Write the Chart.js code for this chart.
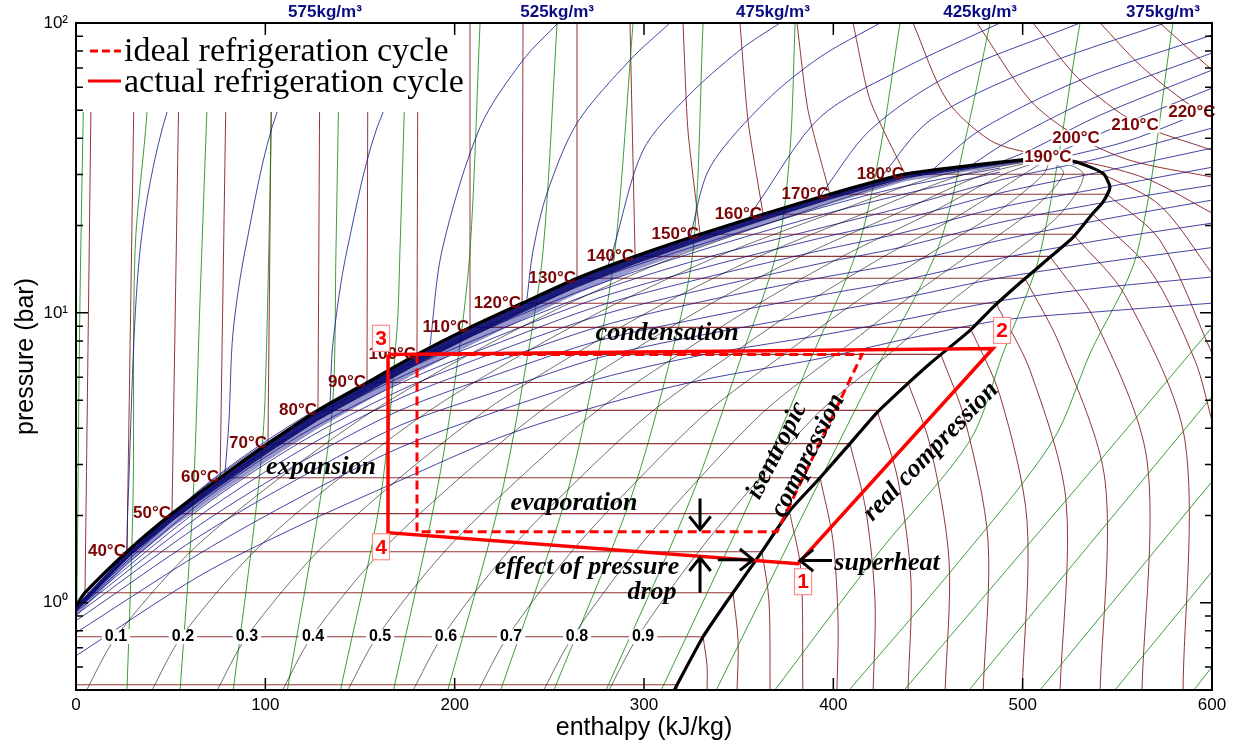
<!DOCTYPE html>
<html>
<head>
<meta charset="utf-8">
<title>p-h diagram</title>
<script src="https://cdn.jsdelivr.net/npm/chart.js@4.4.1/dist/chart.umd.min.js"></script>
<style>
  html, body { margin: 0; padding: 0; background: #fff; }
  #wrap { width: 1238px; height: 746px; }
</style>
</head>
<body>
<div id="wrap"><canvas id="ph" width="1238" height="746"></canvas></div>
<script>
// ---------- axes ----------
const enthalpyTicks = [0, 100, 200, 300, 400, 500, 600];
const pressureDecades = [1, 10, 100];
const decadeLabels = ['10⁰', '10¹', '10²'];

// ---------- saturation dome (h kJ/kg, p bar) ----------
const satLiquid = [[0,0.976],[4.75,1.083],[26.9,1.50],[50.7,2.03],[76.1,2.70],[101.4,3.54],[127.8,4.61],[153.7,5.75],[180.1,7.19],[208.1,8.91],[235.6,10.79],[264.6,13.16],[295.3,15.67],[329.6,18.67],[362.9,21.89],[398.2,25.67],[437.9,30.09],[488.0,33.1],[514.4,34.19]];
const satVapour = [[514.4,34.19],[528.7,33.1],[542.4,30.3],[546.1,27.1],[542.4,24.1],[537.2,22.1],[526.6,18.2],[514.4,15.55],[500.2,12.95],[484.3,10.45],[472.2,8.70],[451.1,6.69],[439.4,5.71],[423.1,4.53],[408.8,3.54],[393.0,2.70],[377.1,2.08],[362.3,1.50],[347.0,1.083],[331.2,0.763],[315.3,0.49]];
// crowded high-density isochores just inside the liquid line
const bundleH     = [0, 26.9, 50.7, 76.1, 101.4, 127.8, 153.7, 180.1, 208.1, 235.6, 264.6, 295.3, 329.6, 362.9, 398.2, 437.9, 488.0, 514.4];
const bundleTopP  = [0.976, 1.50, 2.03, 2.70, 3.54, 4.61, 5.75, 7.19, 8.91, 10.79, 13.16, 15.67, 18.67, 21.89, 25.67, 30.09, 33.1, 34.19];
const bundleMidP  = [0.928, 1.417, 1.905, 2.517, 3.280, 4.244, 5.293, 6.619, 8.203, 9.997, 12.27, 14.70, 17.63, 20.80, 24.55, 29.15, 32.47, 34.19];
const bundleLowP  = [0.893, 1.357, 1.816, 2.389, 3.098, 3.989, 4.975, 6.221, 7.710, 9.441, 11.64, 14.02, 16.89, 20.02, 23.74, 28.46, 32.01, 34.19];

// ---------- isotherms ----------
const isothermTemps = [10,20,30,40,50,60,70,80,90,100,110,120,130,140,150,160,170,180];
const isothermSatP  = [0.521,0.763,1.083,1.50,2.03,2.70,3.54,4.61,5.75,7.19,8.91,10.79,13.16,15.67,18.67,21.89,25.67,30.09];
const isothermLiquidSide = [
  [[0,0.521]],
  [[0,0.763]],
  [[8.45,100],[4.75,1.083]],
  [[31.2,100],[26.9,1.50]],
  [[54.9,100],[50.7,2.03]],
  [[79.8,100],[76.1,2.70]],
  [[103.5,100],[101.4,3.54]],
  [[128.9,100],[127.8,4.61]],
  [[154.2,100],[153.7,5.75]],
  [[180.6,100],[180.1,7.19]],
  [[208.1,100],[208.1,8.91]],
  [[236.1,100],[235.6,10.79]],
  [[264.6,100],[264.6,13.16]],
  [[292.6,100],[295.3,15.67]],
  [[320.6,100],[323.2,42.7],[329.6,18.67]],
  [[350.7,100],[354.9,46.2],[362.9,21.89]],
  [[380.8,100],[386.6,50.1],[398.2,25.67]],
  [[410.4,100],[419.4,54.2],[437.9,30.09]]
];
const isothermVapourSide = [
  [[316.9,0.521],[318,0.49]],
  [[331.2,0.763],[333.3,0.606],[333.3,0.49]],
  [[347.0,1.083],[349.7,0.739],[349.1,0.49]],
  [[362.3,1.50],[366.0,1.016],[366.6,0.49]],
  [[377.1,2.03],[382.9,1.290],[383.9,0.49]],
  [[393.0,2.70],[399.8,1.64],[402.5,0.867],[401.9,0.49]],
  [[408.8,3.54],[417.2,2.08],[422.0,1.016],[421.0,0.49]],
  [[423.1,4.61],[434.2,2.64],[441.0,1.19],[439.4,0.49]],
  [[439.4,5.75],[451.1,3.49],[461.1,1.40],[459.0,0.49]],
  [[456.8,7.19],[469.6,4.25],[481.7,1.64],[479.1,0.49]],
  [[472.2,8.91],[488.0,5.19],[502.3,1.92],[499.7,0.49]],
  [[485.9,10.79],[503.9,6.33],[522.9,2.25],[519.7,0.49]],
  [[501.2,13.16],[519.7,7.72],[543.5,2.64],[540.9,0.49]],
  [[514.4,15.67],[538.2,9.42],[565.7,3.09],[563.0,0.49]],
  [[526.6,18.67],[554.1,11.49],[585.7,3.63],[584.7,0.49]],
  [[537.2,21.89],[567.3,14.03],[591.0,6.85],[600,4.25]],
  [[544.5,25.67],[572.5,17.8],[600,7.25]],
  [[542.4,30.09],[572.5,23.5],[600,13.69]]
];
const hotIsothermTemps = [190,200,210,220,230];
const hotIsotherms = [
  [[442.1,100],[460.0,54.2],[482.8,39.4],[503.9,35.6],[540.9,32.3],[567.3,28.7],[600,22.1]],
  [[475.9,100],[503.9,54.2],[527.7,41.0],[556.7,33.6],[600,29.4]],
  [[505.5,100],[530.3,63.5],[559.3,45.5],[600,36.4]],
  [[540.9,100],[562.0,71.6],[588.4,52.1],[600,48.1]],
  [[572.5,100],[600,68.8]]
];
const labelledTemps = [40,50,60,70,80,90,100,110,120,130,140,150,160,170,180];
const hotLabelH = [513.3, 528.2, 559.3, 589.4];
const hotLabelP = [34.4, 40.1, 44.4, 49.3];

// ---------- isochores (kg/m3) ----------
const denseIsochores = [
  [[12.7,100],[6.3,80.7],[0,63.5]],
  [[70.8,100],[48.1,49.3],[33.8,16.4],[27.5,2.25],[26.9,1.50]],
  [[132.6,100],[106.2,49.3],[89.3,16.4],[82.9,8.50],[80.8,4.25],[78.7,2.81]],
  [[194.9,100],[162.2,49.3],[143.1,16.4],[135.7,7.85],[134.2,4.87]],
  [[254.6,100],[236.1,74.5],[213.4,43.7],[193.3,16.4],[187.0,7.72]],
  [[313.7,100],[292.6,74.5],[264.6,45.1],[248.8,25.9],[241.4,16.4],[238.2,11.2]],
  [[371.8,100],[350.7,80.7],[322.7,55.5],[299.5,36.4],[283.6,16.4],[281.0,14.6]],
  [[424.7,100],[393.0,76.3],[365.0,54.2],[334.9,31.8],[324.3,18.2]],
  [[488.0,100],[435.2,68.8],[393.0,47.3],[361.3,24.5],[354.9,21.0]],
  [[530.3,100],[461.6,66.1],[419.4,42.7],[393.0,25.3]],
  [[575.2,100],[503.9,68.8],[451.1,46.2],[424.7,29.1]],
  [[600,90.9],[530.3,63.5],[477.5,42.7],[451.1,30.6]],
  [[600,78.8],[540.9,56.4],[493.3,39.4],[472.2,32.1]],
  [[600,68.8],[540.9,48.1],[503.9,36.4],[488.0,33.1]],
  [[600,59.6],[551.4,44.4],[514.4,35.0],[501.2,33.6]],
  [[600,50.9],[556.7,39.4],[519.7,34.2]]
];
const densityLabels = ['575kg/m³','525kg/m³','475kg/m³','425kg/m³','375kg/m³'];
const densityLabelH = [131.5, 254.1, 368.1, 477.5, 574.1];
// lighter isochores crossing the two-phase region, sampled on a common enthalpy grid
const wetIsochoreH = [600, 540.9, 488, 435.2, 393, 329.6, 276.8, 223.9, 171.1, 118.3, 65.5, 0];
const wetIsochoreP = [
  [10.8,10.1,9.42,8.04,6.96,5.85,4.79,3.72,2.64,1.85,1.24,0.656],
  [13.3,12.2,11.0,9.42,8.36,7.13,5.94,4.61,3.43,2.31,1.48,0.788],
  [16.8,14.9,13.2,11.2,9.96,8.36,7.02,5.40,4.09,2.70,1.70,0.867],
  [20.4,17.8,15.4,12.9,11.5,9.57,8.04,6.18,4.61,3.04,1.86,0.909],
  [24.5,20.9,17.8,14.8,13.2,10.9,8.98,6.85,5.07,3.35,2.00,0.931],
  [27.6,23.9,20.5,16.8,14.8,11.96,9.80,7.42,5.40,3.57,2.11,0.946],
  [31.8,26.9,23.1,18.8,16.4,13.1,10.6,7.91,5.71,3.78,2.21,0.953],
  [37.0,30.6,25.9,20.9,18.1,14.2,11.3,8.36,5.99,3.96,2.31,0.961],
  [43.4,34.2,28.7,23.0,19.6,15.3,11.96,8.77,6.23,4.12,2.38,0.969],
  [null,null,30.6,25.5,21.7,16.4,12.6,9.20,6.38,4.22,2.44,0.969],
  [null,null,31.6,27.1,23.0,17.2,13.2,9.42,6.48,4.29,2.46,0.969]
];

// ---------- isentropes ----------
const isentropes = [
  [[0.5,1.016],[2.1,11.0],[4.75,100]],
  [[26.9,0.49],[30.1,2.25],[31.2,16.4],[37.5,49.3],[39.1,100]],
  [[54.9,0.49],[61.8,2.25],[65.5,11.0],[70.8,100]],
  [[82.9,0.49],[95.6,2.25],[99.8,4.99],[104.1,100]],
  [[111.4,0.49],[128.9,2.25],[135.7,4.99],[137.3,16.4],[139.4,100]],
  [[139.4,0.49],[160.6,2.25],[169.5,8.70],[171.1,16.4],[174.8,100]],
  [[167.4,0.49],[189.6,2.25],[200.2,5.85],[208.1,16.4],[213.4,100]],
  [[196.0,0.49],[223.9,2.25],[237.2,6.33],[246.7,16.4],[254.1,100]],
  [[223.9,0.49],[258.3,2.25],[274.1,6.33],[284.7,16.4],[294.2,100]],
  [[251.9,0.49],[292.6,2.25],[313.7,6.85],[325.9,16.4],[331.2,100]],
  [[279.4,0.49],[324.3,2.25],[350.7,6.85],[370.3,16.4],[377.1,36.4],[379.8,100]],
  [[308.5,0.49],[356.0,2.25],[387.7,6.85],[412.5,16.4],[424.7,36.4],[435.2,100]],
  [[337.5,0.49],[382.4,1.92],[419.4,5.85],[454.8,16.4],[469.6,39.4],[482.8,100]],
  [[368.1,0.49],[424.7,1.51],[472.2,3.63],[489.6,7.25],[509.2,16.05],[530.3,100]],
  [[407.2,0.49],[466.9,1.40],[516.0,3.63],[535.6,7.25],[560.4,16.05],[579.4,100]],
  [[436.3,0.49],[549.8,3.63],[600,8.91]],
  [[470.6,0.49],[600,5.15]],
  [[508.1,0.49],[600,2.62]],
  [[547.7,0.49],[600,1.28]],
  [[589.4,0.49],[600,0.601]]
];

// ---------- vapour quality lines ----------
const qualityValues = ['0.1','0.2','0.3','0.4','0.5','0.6','0.7','0.8','0.9'];
const qualityP = [0.49, 0.763, 1.50, 2.70, 4.61, 7.19, 10.79, 15.67, 21.89, 30.09, 34.19];
const qualityH = [
  [4.9, 21.2, 60.5, 107.7, 157.3, 207.8, 260.6, 317.2, 380.3, 448.3, 514.4],
  [39.4, 55.7, 94.0, 139.4, 186.9, 235.5, 285.6, 339.1, 397.7, 458.8, 514.4],
  [73.9, 90.1, 127.6, 171.1, 216.4, 263.1, 310.7, 361.0, 415.2, 469.2, 514.4],
  [108.4, 124.5, 161.1, 202.8, 245.9, 290.8, 335.7, 382.9, 432.6, 479.7, 514.4],
  [142.9, 159.0, 194.6, 234.5, 275.4, 318.5, 360.8, 404.9, 450.0, 490.2, 514.4],
  [177.4, 193.4, 228.2, 266.2, 305.0, 346.2, 385.8, 426.8, 467.4, 500.6, 514.4],
  [211.9, 227.9, 261.7, 297.9, 334.5, 373.8, 410.8, 448.7, 484.9, 511.1, 514.4],
  [246.3, 262.3, 295.3, 329.6, 364.0, 401.5, 435.9, 470.6, 502.3, 521.5, 514.4],
  [280.8, 296.7, 328.8, 361.3, 393.5, 429.2, 460.9, 492.5, 519.7, 532.0, 514.4]
];
const qualityLabelH = [21.1, 56.5, 90.3, 125.2, 160.6, 195.4, 229.8, 264.6, 299.5];
const qualityLabelP = 0.763;

// ---------- refrigeration cycles ----------
const actualCycleH = [164.8, 164.8, 381.3, 484.3, 164.8];
const actualCycleP = [7.19, 1.745, 1.364, 7.54, 7.19];
const idealCycleH  = [180.1, 180.1, 370.3, 415.2, 180.1];
const idealCycleP  = [7.19, 1.758, 1.758, 7.19, 7.19];
const statePointNames = ['1','2','3','4'];
const statePointH = [384.0, 489.1, 161.1, 161.1];
const statePointP = [1.182, 8.70, 8.17, 1.56];

// ---------- notes and arrows ----------
const noteTexts = ['condensation','expansion','evaporation','effect of pressure','drop','superheat','isentropic','compression','real compression'];
const noteH = [312.2, 129.4, 263.0, 269.9, 304.2, 428.4, 370.3, 386.6, 451.6];
const noteP = [8.50, 2.93, 2.21, 1.33, 1.083, 1.364, 3.35, 3.22, 3.32];
const noteAngle = [0, 0, 0, 0, 0, 0, -63, -63, -46];
const arrowFromH = [329.6, 329.6, 339.0, 399.3];
const arrowFromP = [2.29, 1.083, 1.408, 1.40];
const arrowToH   = [329.6, 329.6, 357.6, 382.4];
const arrowToP   = [1.788, 1.43, 1.408, 1.40];

// ---------- colours ----------
const C_ISOTHERM = 'rgba(128,18,18,0.85)';
const C_ISOCHORE = 'rgba(22,22,140,0.8)';
const C_ISENTROPE = 'rgba(10,135,10,0.8)';
const C_QUALITY = 'rgba(0,0,0,0.7)';
const C_CYCLE = '#ff0000';
const C_TEMP_TEXT = '#7a0606';
const C_DENS_TEXT = '#0c0c80';

function toPts(arr) { return arr.filter(p => p[1] !== null).map(([x, y]) => ({ x, y })); }
function zip(hs, ps) { return hs.map((h, i) => [h, ps[i]]); }
function series(arr, color, width, extra) {
  return Object.assign({
    data: toPts(arr), showLine: true, borderColor: color, borderWidth: width,
    pointRadius: 0, pointHoverRadius: 0, fill: false, tension: 0.3
  }, extra || {});
}
function band(hs, upper, lower, color) {
  const outline = zip(hs, upper).concat(zip(hs, lower).reverse());
  return series(outline, 'rgba(0,0,0,0)', 0, { tension: 0, fill: 'shape', backgroundColor: color });
}

// datasets: first entries are painted last (on top)
const datasets = [];
datasets.push(series(zip(actualCycleH, actualCycleP), C_CYCLE, 3.5, { tension: 0 }));
datasets.push(series(zip(idealCycleH, idealCycleP), C_CYCLE, 3, { tension: 0, borderDash: [9, 5] }));
const DOME_INDEX = datasets.length;
datasets.push(series(satLiquid.concat(satVapour.slice(1)), '#000', 3.2, { tension: 0.2 }));
datasets.push(band(bundleH, bundleTopP, bundleMidP, 'rgba(8,8,110,0.92)'));
datasets.push(band(bundleH, bundleMidP, bundleLowP, 'rgba(25,25,140,0.45)'));
qualityH.forEach(hs => datasets.push(series(zip(hs, qualityP), C_QUALITY, 0.8)));
wetIsochoreP.forEach(ps => datasets.push(series(zip(wetIsochoreH, ps), C_ISOCHORE, 1)));
denseIsochores.forEach(l => datasets.push(series(l, C_ISOCHORE, 1)));
isentropes.forEach(l => datasets.push(series(l, C_ISENTROPE, 1)));
isothermTemps.forEach((t, i) => {
  const liq = isothermLiquidSide[i], vap = isothermVapourSide[i];
  if (liq.length > 1) datasets.push(series(liq, C_ISOTHERM, 1, { tension: 0.2 }));
  datasets.push(series([liq[liq.length - 1], vap[0]], C_ISOTHERM, 1.1, { tension: 0 }));
  datasets.push(series(vap, C_ISOTHERM, 1));
});
hotIsotherms.forEach(l => datasets.push(series(l, C_ISOTHERM, 1)));

// ---------- drawing helpers ----------
function label(ctx, txt, x, y, align, font, color, pad) {
  ctx.font = font;
  if (pad !== null) {
    const w = ctx.measureText(txt).width;
    const h = parseInt(font.match(/(\d+)px/)[1], 10) * 0.8;
    const left = align === 'right' ? x - w : (align === 'center' ? x - w / 2 : x);
    ctx.fillStyle = '#fff';
    ctx.fillRect(left - pad, y - h / 2 - 1, w + 2 * pad, h + 2);
  }
  ctx.fillStyle = color;
  ctx.textAlign = align;
  ctx.textBaseline = 'middle';
  ctx.fillText(txt, x, y);
}
function arrow(ctx, x1, y1, x2, y2) {
  const a = Math.atan2(y2 - y1, x2 - x1), L = 17, s = 0.68;
  ctx.beginPath();
  ctx.moveTo(x1, y1); ctx.lineTo(x2, y2);
  ctx.moveTo(x2 - L * Math.cos(a - s), y2 - L * Math.sin(a - s));
  ctx.lineTo(x2, y2);
  ctx.lineTo(x2 - L * Math.cos(a + s), y2 - L * Math.sin(a + s));
  ctx.stroke();
}

const decor = {
  id: 'decor',
  beforeDraw(c) {
    const ctx = c.ctx; ctx.save(); ctx.fillStyle = '#fff'; ctx.fillRect(0, 0, c.width, c.height); ctx.restore();
  },
  afterDatasetDraw(c, args) {
    if (args.index !== DOME_INDEX) return;
    const ctx = c.ctx, X = v => c.scales.x.getPixelForValue(v), Y = v => c.scales.y.getPixelForValue(v);
    ctx.save();
    // temperature labels at the saturated-liquid end of each isotherm
    labelledTemps.forEach(t => {
      const i = isothermTemps.indexOf(t);
      const liq = isothermLiquidSide[i];
      const pnt = liq[liq.length - 1];
      label(ctx, t + '°C', X(pnt[0]) - 1, Y(isothermSatP[i]), 'right', 'bold 17px Arial', C_TEMP_TEXT, null);
    });
    hotIsothermTemps.slice(0, 4).forEach((t, i) => {
      label(ctx, t + '°C', X(hotLabelH[i]), Y(hotLabelP[i]), 'center', 'bold 17px Arial', C_TEMP_TEXT, 1);
    });
    // quality labels
    qualityValues.forEach((q, i) => {
      label(ctx, q, X(qualityLabelH[i]), Y(qualityLabelP), 'center', 'bold 16px Arial', '#000', 3);
    });
    ctx.restore();
  },
  afterDatasetsDraw(c) {
    const ctx = c.ctx, a = c.chartArea;
    const X = v => c.scales.x.getPixelForValue(v), Y = v => c.scales.y.getPixelForValue(v);
    ctx.save();
    // state point tags
    statePointNames.forEach((n, i) => {
      const x = X(statePointH[i]), y = Y(statePointP[i]);
      ctx.fillStyle = '#fff'; ctx.fillRect(x - 8.5, y - 13, 17, 26);
      ctx.strokeStyle = '#ff8c8c'; ctx.lineWidth = 1.2; ctx.strokeRect(x - 8.5, y - 13, 17, 26);
      ctx.fillStyle = '#ff0000'; ctx.font = 'bold 21px Arial'; ctx.textAlign = 'center'; ctx.textBaseline = 'middle';
      ctx.fillText(n, x, y + 1);
    });
    // process notes
    ctx.fillStyle = '#000';
    ctx.font = 'italic bold 26px "Liberation Serif", "Times New Roman", serif';
    ctx.textAlign = 'center'; ctx.textBaseline = 'middle';
    noteTexts.forEach((t, i) => {
      ctx.save();
      ctx.translate(X(noteH[i]), Y(noteP[i]));
      ctx.rotate(noteAngle[i] * Math.PI / 180);
      ctx.fillText(t, 0, 0);
      ctx.restore();
    });
    // arrows
    ctx.strokeStyle = '#000'; ctx.lineWidth = 3; ctx.lineCap = 'butt'; ctx.lineJoin = 'miter';
    arrowFromH.forEach((h, i) => arrow(ctx, X(h), Y(arrowFromP[i]), X(arrowToH[i]), Y(arrowToP[i])));
    // legend
    ctx.fillStyle = '#fff'; ctx.fillRect(a.left + 1, a.top + 1, 387, 88);
    ctx.strokeStyle = C_CYCLE; ctx.lineWidth = 3;
    ctx.setLineDash([8, 4]);
    ctx.beginPath(); ctx.moveTo(90, 51); ctx.lineTo(121, 51); ctx.stroke();
    ctx.setLineDash([]);
    ctx.beginPath(); ctx.moveTo(88, 81); ctx.lineTo(121, 81); ctx.stroke();
    ctx.fillStyle = '#000'; ctx.font = '34px "Liberation Serif", "Times New Roman", serif';
    ctx.textAlign = 'left'; ctx.textBaseline = 'alphabetic';
    ctx.fillText('ideal refrigeration cycle', 124, 61);
    ctx.fillText('actual refrigeration cycle', 124, 92);
    // density labels above the frame
    ctx.fillStyle = C_DENS_TEXT; ctx.font = 'bold 17px Arial'; ctx.textAlign = 'center'; ctx.textBaseline = 'middle';
    densityLabels.forEach((t, i) => ctx.fillText(t, X(densityLabelH[i]), 12));
    // frame and ticks
    ctx.strokeStyle = '#000'; ctx.lineWidth = 2;
    ctx.strokeRect(a.left, a.top, a.right - a.left, a.bottom - a.top);
    ctx.lineWidth = 1.5;
    ctx.beginPath();
    enthalpyTicks.slice(1, -1).forEach(v => {
      const x = X(v);
      ctx.moveTo(x, a.bottom); ctx.lineTo(x, a.bottom - 12);
      ctx.moveTo(x, a.top); ctx.lineTo(x, a.top + 12);
    });
    [0.1, 1, 10].forEach(d => {
      for (let k = 1; k <= 9; k++) {
        const v = k * d;
        if (v <= 0.5 || v >= 100) continue;
        const y = Y(v), len = k === 1 ? 12 : 7;
        ctx.moveTo(a.left, y); ctx.lineTo(a.left + len, y);
        ctx.moveTo(a.right, y); ctx.lineTo(a.right - len, y);
      }
    });
    ctx.stroke();
    // axis titles
    ctx.fillStyle = '#000'; ctx.font = '25px Arial'; ctx.textAlign = 'center'; ctx.textBaseline = 'middle';
    ctx.fillText('enthalpy (kJ/kg)', (a.left + a.right) / 2, 728);
    ctx.save();
    ctx.translate(26, (a.top + a.bottom) / 2);
    ctx.rotate(-Math.PI / 2);
    ctx.fillText('pressure (bar)', 0, 0);
    ctx.restore();
    ctx.restore();
  }
};

new Chart(document.getElementById('ph'), {
  type: 'scatter',
  data: { datasets },
  options: {
    responsive: false,
    animation: false,
    devicePixelRatio: 1,
    events: [],
    layout: { padding: { top: 23, right: 26, left: 0, bottom: 0 } },
    elements: { line: { capBezierPoints: false } },
    plugins: { legend: { display: false }, tooltip: { enabled: false } },
    scales: {
      x: {
        type: 'linear', min: 0, max: 600,
        grid: { display: false, drawTicks: false },
        border: { display: false },
        ticks: { stepSize: 100, autoSkip: false, maxRotation: 0, padding: 5, color: '#000', font: { family: 'Arial', size: 17 } },
        afterBuildTicks: s => { s.ticks = enthalpyTicks.map(v => ({ value: v })); },
        afterFit: s => { s.height = 56; }
      },
      y: {
        type: 'logarithmic', min: 0.5, max: 100,
        grid: { display: false, drawTicks: false },
        border: { display: false },
        ticks: {
          autoSkip: false, padding: 8, color: '#000', font: { family: 'Arial', size: 17 },
          callback: v => { const i = pressureDecades.indexOf(v); return i >= 0 ? decadeLabels[i] : ''; }
        },
        afterBuildTicks: s => { s.ticks = pressureDecades.map(v => ({ value: v, major: true })); },
        afterFit: s => { s.width = 76; }
      }
    }
  },
  plugins: [decor]
});
</script>
</body>
</html>
